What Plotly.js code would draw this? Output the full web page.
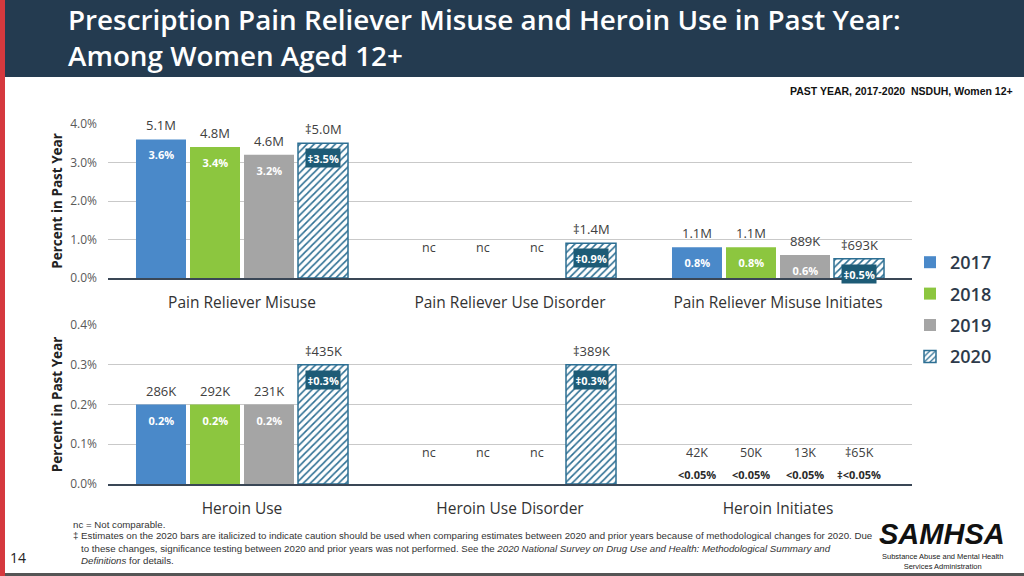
<!DOCTYPE html>
<html>
<head>
<meta charset="utf-8">
<script src="https://cdn.plot.ly/plotly-3.0.1.min.js"></script>
<style>html,body{margin:0;padding:0;background:#fff;}#chart{width:1024px;height:576px;}</style>
</head>
<body>
<div id="chart"></div>
<script>
// ---------- data ----------
const years = ['2017', '2018', '2019', '2020'];
const categoriesTop = ['Pain Reliever Misuse', 'Pain Reliever Use Disorder', 'Pain Reliever Misuse Initiates'];
const categoriesBottom = ['Heroin Use', 'Heroin Use Disorder', 'Heroin Initiates'];

// percent values per year (rows = years, columns = categories); null = no bar drawn
const pctTop = [
  [3.6, null, 0.8],
  [3.4, null, 0.8],
  [3.2, null, 0.6],
  [3.5, 0.9, 0.5]
];
const countLabelsTop = [
  ['5.1M', 'nc', '1.1M'],
  ['4.8M', 'nc', '1.1M'],
  ['4.6M', 'nc', '889K'],
  ['\u20215.0M', '\u20211.4M', '\u2021693K']
];
const pctLabelsTop = [
  ['3.6%', '', '0.8%'],
  ['3.4%', '', '0.8%'],
  ['3.2%', '', '0.6%'],
  ['\u20213.5%', '\u20210.9%', '\u20210.5%']
];

const pctBottom = [
  [0.2, null, null],
  [0.2, null, null],
  [0.2, null, null],
  [0.3, 0.3, null]
];
const countLabelsBottom = [
  ['286K', 'nc', '42K'],
  ['292K', 'nc', '50K'],
  ['231K', 'nc', '13K'],
  ['\u2021435K', '\u2021389K', '\u202165K']
];
const pctLabelsBottom = [
  ['0.2%', '', '<0.05%'],
  ['0.2%', '', '<0.05%'],
  ['0.2%', '', '<0.05%'],
  ['\u20210.3%', '\u20210.3%', '\u2021<0.05%']
];

const yTicksTop = [0, 1, 2, 3, 4];
const yTickTextTop = ['0.0%', '1.0%', '2.0%', '3.0%', '4.0%'];
const yTicksBottom = [0, 0.1, 0.2, 0.3, 0.4];
const yTickTextBottom = ['0.0%', '0.1%', '0.2%', '0.3%', '0.4%'];

// ---------- style ----------
const FONT = 'Open Sans, sans-serif';
const colors = ['#4a89c9', '#8cc63f', '#a5a5a5', '#ffffff'];
const hatchColor = '#2d6f93';
const boxColor = '#1d5b76';
const bargap = 0.194, bargroupgap = 0.074;
const slot = (1 - bargap) / years.length;
const W = 1024, H = 576;
const px = v => v / W;
const py = v => 1 - v / H;

const traces = [];
const annotations = [];

function addPanel(pct, counts, pctLabels, xref, yref, showLegend, smallLevel, lowLevel) {
  years.forEach((yr, j) => {
    const is2020 = j === 3;
    traces.push({
      type: 'bar', x: [0, 1, 2], y: pct[j], name: yr,
      xaxis: xref, yaxis: yref, showlegend: showLegend, legendgroup: yr,
      marker: is2020 ? {
        color: '#ffffff',
        pattern: {shape: '/', fgcolor: hatchColor, bgcolor: '#ffffff', size: 5, solidity: 0.32},
        line: {color: hatchColor, width: 1.5}
      } : {color: colors[j], line: {width: 0}},
      hoverinfo: 'skip'
    });
    const off = (j - (years.length - 1) / 2) * slot;
    for (let c = 0; c < 3; c++) {
      const v = pct[j][c];
      const xpos = c + off;
      if (v === null) {
        annotations.push({xref, yref, x: xpos, y: smallLevel, text: counts[j][c], showarrow: false,
          yanchor: 'middle', font: {family: FONT, size: 12.5, color: '#404040'}});
        if (pctLabels[j][c]) {
          annotations.push({xref, yref, x: xpos, y: lowLevel, text: '<b>' + pctLabels[j][c] + '</b>', showarrow: false,
            yanchor: 'middle', font: {family: FONT, size: 11, color: '#2a2a2a'}});
        }
      } else {
        annotations.push({xref, yref, x: xpos, y: v, text: counts[j][c], showarrow: false,
          yanchor: 'bottom', yshift: 3, font: {family: FONT, size: 13, color: '#404040'}});
        annotations.push({xref, yref, x: xpos, y: v, text: '<b>' + pctLabels[j][c] + '</b>', showarrow: false,
          yanchor: 'top', yshift: -5,
          bgcolor: is2020 ? boxColor : 'rgba(0,0,0,0)', borderpad: 1.5,
          font: {family: FONT, size: 11, color: '#ffffff'}});
      }
    }
  });
}

addPanel(pctTop, countLabelsTop, pctLabelsTop, 'x', 'y', true, 0.8, 0.3);
addPanel(pctBottom, countLabelsBottom, pctLabelsBottom, 'x2', 'y2', false, 0.08, 0.025);

// ---------- page text ----------
const pageText = [
  {x: px(66), y: py(37), align: 'left',
    text: 'Prescription Pain Reliever Misuse and Heroin Use in Past Year:<br>Among Women Aged 12+',
    xanchor: 'left', yanchor: 'middle',
    font: {family: FONT, size: 27.8, weight: 600, color: '#ffffff'}},
  {x: px(1015), y: py(91), text: '<b>PAST YEAR, 2017-2020  NSDUH, Women 12+</b>', xanchor: 'right', yanchor: 'middle',
    font: {family: 'Liberation Sans, Arial, sans-serif', size: 10.5, color: '#111111'}},
  {x: px(71), y: py(524), text: 'nc = Not comparable.', xanchor: 'left', yanchor: 'middle',
    font: {family: 'Liberation Sans, sans-serif', size: 9.7, color: '#333333'}},
  {x: px(71), y: py(548), align: 'left', xanchor: 'left', yanchor: 'middle',
    text: '\u2021 Estimates on the 2020 bars are italicized to indicate caution should be used when comparing estimates between 2020 and prior years because of methodological changes for 2020. Due<br>' +
          '   to these changes, significance testing between 2020 and prior years was not performed. See the <i>2020 National Survey on Drug Use and Health: Methodological Summary and</i><br>' +
          '   <i>Definitions</i> for details.',
    font: {family: 'Liberation Sans, sans-serif', size: 9.7, color: '#333333'}},
  {x: px(18), y: py(557), text: '14', xanchor: 'center', yanchor: 'middle',
    font: {family: FONT, size: 14, color: '#222222'}},
  {x: px(942), y: py(534), text: '<b><i>SAMHSA</i></b>', xanchor: 'center', yanchor: 'middle',
    font: {family: 'Liberation Sans, Arial, sans-serif', size: 29, color: '#111111'}},
  {x: px(942), y: py(561), text: 'Substance Abuse and Mental Health<br>Services Administration', xanchor: 'center', yanchor: 'middle',
    font: {family: 'Liberation Sans, sans-serif', size: 7.5, color: '#222222'}}
];
pageText.forEach(a => annotations.push(Object.assign({xref: 'paper', yref: 'paper', showarrow: false}, a)));

const shapes = [
  {type: 'rect', xref: 'paper', yref: 'paper', x0: px(5), x1: 1, y0: py(77), y1: 1, fillcolor: '#243b50', line: {width: 0}, layer: 'below'},
  {type: 'rect', xref: 'paper', yref: 'paper', x0: 0, x1: px(5), y0: 0, y1: 1, fillcolor: '#d5393e', line: {width: 0}, layer: 'below'},
  {type: 'rect', xref: 'paper', yref: 'paper', x0: px(5), x1: 1, y0: 0, y1: py(573), fillcolor: '#555555', line: {width: 0}, layer: 'below'}
];

const xAxisCommon = {
  range: [-0.5, 2.5], tickvals: [0, 1, 2], showgrid: false, zeroline: false,
  showline: true, linecolor: '#3a4756', linewidth: 2, ticks: '', fixedrange: true,
  tickfont: {family: FONT, size: 15.5, color: '#333333'}, ticklabelstandoff: 9,
  domain: [px(108), px(912)]
};
const yAxisCommon = {
  showgrid: true, gridcolor: '#c9c9c9', gridwidth: 1, zeroline: false, showline: false, ticks: '',
  tickfont: {family: FONT, size: 12, color: '#595959'}, ticklabelstandoff: 10, fixedrange: true
};
const yTitle = {text: '<b>Percent in Past Year</b>', standoff: 4, font: {family: FONT, size: 13.5, color: '#222222'}};

const layout = {
  width: W, height: H,
  margin: {l: 0, r: 0, t: 0, b: 0},
  paper_bgcolor: '#ffffff', plot_bgcolor: 'rgba(0,0,0,0)',
  barmode: 'group', bargap: bargap, bargroupgap: bargroupgap,
  showlegend: true,
  legend: {x: px(910), y: py(244), xanchor: 'left', yanchor: 'top',
           font: {family: FONT, size: 18, weight: 600, color: '#2d3a4a'},
           traceorder: 'grouped', tracegroupgap: 5, itemwidth: 30, bgcolor: 'rgba(0,0,0,0)'},
  xaxis: Object.assign({}, xAxisCommon, {ticktext: categoriesTop, anchor: 'y'}),
  xaxis2: Object.assign({}, xAxisCommon, {ticktext: categoriesBottom, anchor: 'y2'}),
  yaxis: Object.assign({}, yAxisCommon, {range: [0, 4], tickvals: yTicksTop, ticktext: yTickTextTop, anchor: 'x',
    domain: [py(278), py(124)], title: yTitle}),
  yaxis2: Object.assign({}, yAxisCommon, {range: [0, 0.4], tickvals: yTicksBottom, ticktext: yTickTextBottom, anchor: 'x2',
    domain: [py(484), py(325)], title: yTitle}),
  annotations: annotations,
  shapes: shapes
};

Plotly.newPlot('chart', traces, layout, {displayModeBar: false, staticPlot: true});
</script>
</body>
</html>
